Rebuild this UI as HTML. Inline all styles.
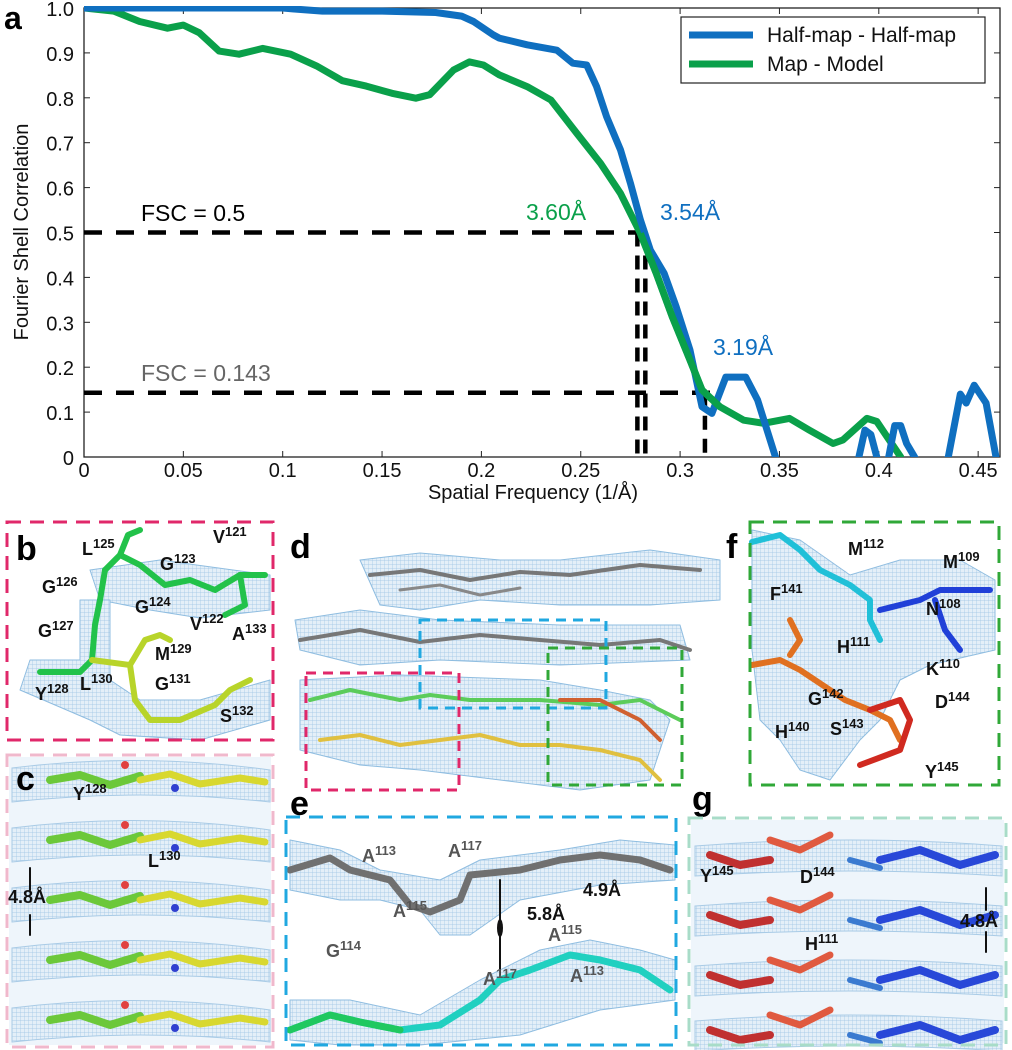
<!DOCTYPE html>
<html><head><meta charset="utf-8">
<style>
html,body{margin:0;padding:0;background:#fff;}
svg{display:block;font-family:"Liberation Sans",Arial,sans-serif;}
</style></head>
<body>
<svg id="fig" width="1012" height="1050" viewBox="0 0 1012 1050" xmlns="http://www.w3.org/2000/svg">
  <defs>
    <clipPath id="plotclip"><rect x="84" y="6" width="916" height="451"/></clipPath>
    <pattern id="mesh" width="4" height="4" patternUnits="userSpaceOnUse">
      <rect width="4" height="4" fill="#e4eff8"/>
      <path d="M0 0H4M0 0V4" stroke="#9cc4e4" stroke-width="0.7"/>
    </pattern>
  </defs>
  <g id="chart"></g>
  <g id="panels"></g>
</svg>
<script>
// ---- chart data ----
const xTicks = [0,0.05,0.1,0.15,0.2,0.25,0.3,0.35,0.4,0.45];
const yTicks = [0,0.1,0.2,0.3,0.4,0.5,0.6,0.7,0.8,0.9,1.0];
const halfX = [0,0.05,0.1,0.105,0.12,0.15,0.177,0.19,0.196,0.206,0.209,0.223,0.238,0.246,0.253,0.258,0.263,0.270,0.275,0.280,0.285,0.292,0.298,0.305,0.311,0.316,0.323,0.333,0.339,0.348,0.352,0.388,0.390,0.393,0.396,0.399,0.402,0.405,0.408,0.411,0.414,0.418,0.421,0.430,0.435,0.441,0.444,0.448,0.454,0.459,0.462];
const halfY = [1.0,1.0,1.0,0.998,0.993,0.993,0.99,0.982,0.97,0.94,0.933,0.918,0.906,0.877,0.873,0.825,0.758,0.684,0.610,0.528,0.461,0.409,0.335,0.238,0.112,0.097,0.178,0.178,0.127,0.0,-0.05,-0.05,0.0,0.06,0.05,0.0,-0.03,0.0,0.07,0.07,0.03,0.0,-0.03,-0.05,0.0,0.14,0.12,0.16,0.12,0.0,-0.05];
const modelX = [0,0.015,0.028,0.042,0.050,0.058,0.068,0.078,0.090,0.104,0.117,0.130,0.142,0.155,0.167,0.174,0.186,0.194,0.201,0.209,0.223,0.235,0.248,0.260,0.270,0.280,0.288,0.296,0.305,0.311,0.320,0.332,0.342,0.355,0.365,0.377,0.382,0.394,0.399,0.411];
const modelY = [1.0,0.993,0.97,0.955,0.962,0.945,0.904,0.897,0.91,0.897,0.871,0.838,0.826,0.81,0.799,0.807,0.862,0.88,0.873,0.851,0.825,0.795,0.721,0.654,0.587,0.498,0.409,0.313,0.216,0.149,0.112,0.082,0.075,0.086,0.060,0.030,0.038,0.086,0.079,0.0];
const thresholds = [0.5,0.143];
const thresholdEnds = [0.285,0.316];
const cutoffsX = [0.2785,0.2825,0.3125];
const cutoffsY = [0.5,0.5,0.143];

const NS="http://www.w3.org/2000/svg";
const X0=84,X1=1000,Y0=457,YT=8;
const sx=v=>X0+v*1987;
const sy=v=>Y0-v*449;
const chart=document.getElementById('chart');
function mk(tag,attrs,parent,text){const e=document.createElementNS(NS,tag);for(const k in attrs)e.setAttribute(k,attrs[k]);if(text!==undefined)e.textContent=text;(parent||chart).appendChild(e);return e;}

let fr=mk('rect',{x:X0,y:YT,width:X1-X0,height:Y0-YT,fill:'none',stroke:'#222','stroke-width':1.3});



xTicks.forEach(v=>{
  const x=sx(v);
  let t=mk('line',{x1:x,x2:x,y1:Y0,y2:Y0-6,stroke:'#222','stroke-width':1});
  
  
  mk('line',{x1:x,x2:x,y1:YT,y2:YT+6,stroke:'#222','stroke-width':1});
  let l=mk('text',{x:x,y:477,'font-size':20,'text-anchor':'middle',fill:'#111'},chart,String(v));
  
  
});
yTicks.forEach(v=>{
  const y=sy(v);
  let t=mk('line',{x1:X0,x2:X0+6,y1:y,y2:y,stroke:'#222','stroke-width':1});
  
  
  mk('line',{x1:X1-6,x2:X1,y1:y,y2:y,stroke:'#222','stroke-width':1});
  let l=mk('text',{x:74,y:y+8,'font-size':20,'text-anchor':'end',fill:'#111'},chart,v===0?'0':v.toFixed(1));
  
  
});
let xt=mk('text',{x:533,y:499,'font-size':20,'text-anchor':'middle',fill:'#111'},chart,'Spatial Frequency (1/Å)');


let yt=mk('text',{x:0,y:0,'font-size':20,'text-anchor':'middle',fill:'#111',transform:'translate(28,232) rotate(-90)'},chart,'Fourier Shell Correlation');


let pa=mk('text',{x:4,y:29,'font-size':32,'font-weight':'bold',fill:'#000'},chart,'a');



const g=mk('g',{'clip-path':'url(#plotclip)'});
thresholds.forEach((v,i)=>{
  let d=mk('line',{x1:sx(0),x2:sx(thresholdEnds[i]),y1:sy(v),y2:sy(v),stroke:'#000','stroke-width':4.5,'stroke-dasharray':'18 14'},g);
  
  
});
cutoffsX.forEach((v,i)=>{
  let d=mk('line',{x1:sx(v),x2:sx(v),y1:sy(cutoffsY[i]),y2:Y0,stroke:'#000','stroke-width':4.5,'stroke-dasharray':'14 9'},g);
  
  
});
function path(xs,ys){return xs.map((x,i)=>(i?'L':'M')+sx(x).toFixed(1)+' '+sy(ys[i]).toFixed(1)).join(' ');}
let gl=mk('path',{d:path(modelX,modelY),fill:'none',stroke:'#0aa04a','stroke-width':7,'stroke-linejoin':'round','stroke-linecap':'round'},g);


let bl=mk('path',{d:path(halfX,halfY),fill:'none',stroke:'#0f6fc0','stroke-width':7,'stroke-linejoin':'round','stroke-linecap':'round'},g);


mk('path',{d:path(modelX.slice(25,31),modelY.slice(25,31)),fill:'none',stroke:'#0aa04a','stroke-width':7,'stroke-linejoin':'round'},g);

let a1=mk('text',{x:141,y:221,'font-size':23,fill:'#000'},chart,'FSC = 0.5');


let a2=mk('text',{x:141,y:381,'font-size':23,fill:'#666'},chart,'FSC = 0.143');


let a3=mk('text',{x:526,y:220,'font-size':23,fill:'#0aa04a'},chart,'3.60Å');


let a4=mk('text',{x:660,y:220,'font-size':23,fill:'#0f6fc0'},chart,'3.54Å');


let a5=mk('text',{x:713,y:355,'font-size':23,fill:'#0f6fc0'},chart,'3.19Å');



const lg=mk('g',{});


mk('rect',{x:681,y:17,width:304,height:66,fill:'#fff',stroke:'#222','stroke-width':1.2},lg);
mk('line',{x1:689,x2:753,y1:35,y2:35,stroke:'#0f6fc0','stroke-width':7},lg);
mk('line',{x1:689,x2:753,y1:64,y2:64,stroke:'#0aa04a','stroke-width':7},lg);
let le1=mk('text',{x:767,y:42,'font-size':21,fill:'#111'},lg,'Half-map - Half-map');


let le2=mk('text',{x:767,y:71,'font-size':21,fill:'#111'},lg,'Map - Model');



// ---- structure panels (schematic) ----
const P=document.getElementById('panels');
function pm(tag,attrs,parent,text){return mk(tag,attrs,parent||P,text);}
function blob(pts,parent){return pm('path',{d:'M'+pts.join(' L')+' Z',fill:'url(#mesh)',stroke:'#8fbde0','stroke-width':1,'stroke-linejoin':'round'},parent);}
function stick(pts,col,w,parent){return pm('polyline',{points:pts.join(' '),fill:'none',stroke:col,'stroke-width':w||6,'stroke-linejoin':'round','stroke-linecap':'round'},parent);}
function lbl(x,y,t,sup,sz,col,parent){const e=pm('text',{x:x,y:y,'font-size':sz||18,'font-weight':'bold',fill:col||'#111'},parent);e.textContent=t;if(sup){const s=document.createElementNS(NS,'tspan');s.setAttribute('font-size',(sz||18)*0.72);s.setAttribute('dy',-7);s.textContent=sup;e.appendChild(s);}return e;}
function box(x,y,w,h,col,dash,name){const r=pm('rect',{x:x,y:y,width:w,height:h,fill:'none',stroke:col,'stroke-width':3,'stroke-dasharray':dash});return r;}

// panel b
const gb=pm('g',{});


blob(['90,570','160,560','270,575','270,610','200,618','150,610','100,600'],gb);
blob(['80,600','110,600','110,680','140,700','200,700','270,680','270,720','200,740','120,735','90,720','20,690','30,660','80,660'],gb);
stick(['105,570','120,555','140,565','165,585','190,580','215,590','240,575','265,575'],'#22c24a',6,gb);
stick(['105,570','100,600','95,625','92,660','80,672','40,672'],'#22c24a',6,gb);
stick(['92,660','130,665','135,700','150,720','180,720','215,705','230,690','250,680'],'#b8d42a',6,gb);
stick(['130,665','145,640','160,635','170,640'],'#b8d42a',6,gb);
stick(['240,575','245,605','225,615'],'#22c24a',6,gb);
stick(['120,555','128,535','140,530'],'#22c24a',6,gb);
lbl(16,560,'b','',34,'#000',gb);
lbl(82,555,'L','125',18,'#111',gb); lbl(213,543,'V','121',18,'#111',gb);
lbl(160,570,'G','123',18,'#111',gb); lbl(42,593,'G','126',18,'#111',gb);
lbl(135,613,'G','124',18,'#111',gb); lbl(190,630,'V','122',18,'#111',gb);
lbl(38,637,'G','127',18,'#111',gb); lbl(155,660,'M','129',18,'#111',gb);
lbl(232,640,'A','133',18,'#111',gb); lbl(35,700,'Y','128',18,'#111',gb);
lbl(80,690,'L','130',18,'#111',gb); lbl(155,690,'G','131',18,'#111',gb);
lbl(220,722,'S','132',18,'#111',gb);
box(7,522,266,218,'#e0286a','14 9','panel-b-frame');

// panel c
const gc=pm('g',{});


pm('rect',{x:9,y:757,width:262,height:288,fill:'#eef5fb'},gc);
[780,840,900,960,1020].forEach(y=>{
  pm('path',{d:`M12 ${y-12} Q140 ${y-28} 270 ${y-10} L270 ${y+22} Q140 ${y+8} 12 ${y+22} Z`,fill:'url(#mesh)',stroke:'#a9cbe6','stroke-width':1},gc);
  stick([`50,${y}`,`80,${y-5}`,`110,${y+5}`,`140,${y-4}`],'#6cc83a',8,gc);
  stick([`140,${y}`,`170,${y-6}`,`200,${y+4}`,`240,${y-2}`,`265,${y+2}`],'#d8d830',7,gc);
  pm('circle',{cx:125,cy:y-15,r:4,fill:'#e04040'},gc);
  pm('circle',{cx:175,cy:y+8,r:4,fill:'#3040d0'},gc);
});
lbl(16,790,'c','',34,'#000',gc);
lbl(73,800,'Y','128',18,'#111',gc); lbl(148,867,'L','130',18,'#111',gc);
lbl(8,903,'4.8Å','',18,'#111',gc);
stick(['30,890','30,868'],'#111',2,gc); stick(['30,915','30,935'],'#111',2,gc);
box(7,755,266,292,'#f0b8cc','14 9','panel-c-frame');

// panel d
const gd=pm('g',{});


blob(['360,560','420,553','500,560','560,560','650,550','720,560','720,600','650,605','560,605','480,600','420,610','380,605'],gd);
blob(['295,620','360,610','440,620','560,625','680,625','690,660','560,665','440,660','360,665','300,650'],gd);
blob(['300,680','400,675','540,680','600,690','650,700','670,720','650,780','580,790','500,780','420,770','360,765','300,750'],gd);
stick(['370,575','420,570','470,580','520,572','570,575','640,565','700,570'],'#777',4,gd);
stick(['400,590','440,585','480,595','520,588'],'#888',3,gd);
stick(['300,640','360,630','420,642','480,635','540,640','600,645','660,640','690,650'],'#777',4,gd);
stick(['310,700','350,690','400,700','430,695','470,700','540,700','600,705','640,700','680,720'],'#5ccc5a',4,gd);
stick(['320,740','360,735','400,745','440,740','480,735','520,745','560,745','600,750','640,760','660,780'],'#e0c040',4,gd);
stick(['560,700','600,700','640,720','660,740'],'#d06030',4,gd);
lbl(290,558,'d','',34,'#000',gd);
box(420,620,186,88,'#20a8e0','10 7','panel-d-blue-box');
box(306,673,153,117,'#e0286a','10 7','panel-d-red-box');
box(548,648,134,137,'#30a838','10 7','panel-d-green-box');

// panel e
const ge=pm('g',{});


blob(['290,840','340,850','380,870','440,880','480,860','560,850','620,840','675,845','675,880','600,885','520,900','470,935','440,935','420,910','380,900','340,900','290,890'],ge);
blob(['290,1000','350,1000','420,1015','480,980','540,950','590,940','640,950','675,960','675,1000','600,1010','520,1035','420,1045','340,1045','290,1040'],ge);
stick(['290,870','330,858','350,870','390,880','410,905','430,912','460,900','470,875','520,870','560,860','600,855','640,860','670,870'],'#707070',7,ge);
stick(['290,1030','330,1015','360,1022','400,1030','440,1025','480,1000','500,980','530,970','570,955','600,960','640,970','670,990'],'#20d0c0',7,ge);
stick(['290,1030','330,1015','360,1022','400,1030'],'#20c860',7,ge);
stick(['500,880','500,975'],'#111',2,ge);
pm('ellipse',{cx:500,cy:928,rx:3,ry:9,fill:'#111'},ge);
lbl(290,815,'e','',34,'#000',ge);
lbl(362,862,'A','113',18,'#555',ge); lbl(448,857,'A','117',18,'#555',ge);
lbl(393,917,'A','115',18,'#555',ge); lbl(527,920,'5.8Å','',18,'#111',ge);
lbl(583,896,'4.9Å','',18,'#111',ge); lbl(548,941,'A','115',18,'#555',ge);
lbl(326,957,'G','114',18,'#555',ge); lbl(483,985,'A','117',18,'#555',ge);
lbl(570,982,'A','113',18,'#555',ge);
box(286,817,390,228,'#20a8e0','14 9','panel-e-frame');

// panel f
const gf=pm('g',{});


blob(['752,530','800,540','850,575','900,560','960,560','995,580','995,650','930,665','900,680','880,720','860,740','830,780','800,770','780,740','760,720','752,650'],gf);
stick(['752,542','780,535','800,550','820,570','850,585','870,600','870,620','880,640'],'#20c0d8',6,gf);
stick(['880,610','920,600','940,590','960,590','990,590'],'#2040d8',6,gf);
stick(['935,600','945,630','960,650'],'#2040d8',6,gf);
stick(['752,665','780,660','800,670','815,680','830,690','845,700','870,710','890,720','900,740'],'#e07020',6,gf);
stick(['790,620','800,640','790,655'],'#e07020',6,gf);
stick(['870,710','900,700','910,720','900,750','860,765'],'#d02a20',6,gf);
lbl(726,558,'f','',34,'#000',gf);
lbl(848,555,'M','112',18,'#111',gf); lbl(943,568,'M','109',18,'#111',gf);
lbl(770,600,'F','141',18,'#111',gf); lbl(926,615,'N','108',18,'#111',gf);
lbl(837,653,'H','111',18,'#111',gf); lbl(926,675,'K','110',18,'#111',gf);
lbl(808,705,'G','142',18,'#111',gf); lbl(935,708,'D','144',18,'#111',gf);
lbl(775,738,'H','140',18,'#111',gf); lbl(830,735,'S','143',18,'#111',gf);
lbl(925,778,'Y','145',18,'#111',gf);
box(750,522,249,263,'#30a838','14 9','panel-f-frame');

// panel g
const gg=pm('g',{});


pm('rect',{x:691,y:820,width:313,height:223,fill:'#eef5fb'},gg);
[860,920,980,1035].forEach(y=>{
  pm('path',{d:`M695 ${y-14} Q850 ${y-26} 1002 ${y-14} L1002 ${y+16} Q850 ${y+6} 695 ${y+16} Z`,fill:'url(#mesh)',stroke:'#a9cbe6','stroke-width':1},gg);
  stick([`710,${y-5}`,`740,${y+5}`,`770,${y}`],'#c03030',8,gg);
  stick([`770,${y-20}`,`800,${y-10}`,`830,${y-25}`],'#e05a40',7,gg);
  stick([`880,${y}`,`920,${y-10}`,`960,${y+5}`,`995,${y-5}`],'#2848d8',8,gg);
  stick([`850,${y}`,`880,${y+8}`],'#3a7ad0',6,gg);
});
lbl(692,810,'g','',34,'#000',gg);
lbl(700,882,'Y','145',18,'#111',gg); lbl(800,883,'D','144',18,'#111',gg);
lbl(805,950,'H','111',18,'#111',gg); lbl(960,927,'4.8Å','',18,'#111',gg);
stick(['986,910','986,888'],'#111',2,gg); stick(['986,932','986,952'],'#111',2,gg);
box(689,818,317,227,'#a8dcc8','14 9','panel-g-frame');
</script>
</body></html>
